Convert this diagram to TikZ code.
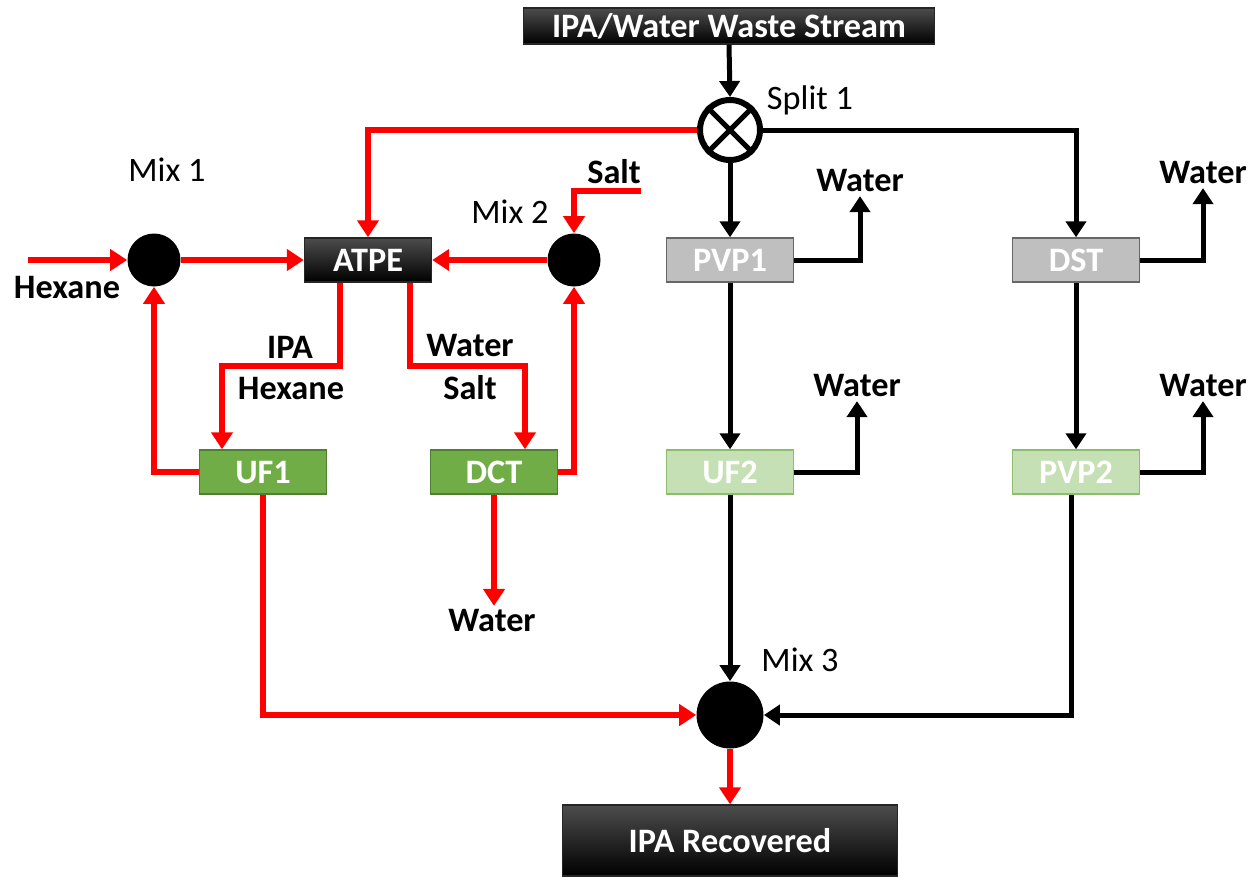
\documentclass[tikz,border=0pt]{standalone}
\usepackage{fontspec}
\setmainfont{Carlito}
\usepackage{xcolor}
\usepackage{tikz}
\usetikzlibrary{arrows.meta}

\definecolor{leafgreen}{HTML}{70AD47}
\definecolor{leafdark}{HTML}{507E32}
\definecolor{leafpale}{HTML}{C5E0B4}
\definecolor{unitgrey}{HTML}{BFBFBF}

\begin{document}
\begin{tikzpicture}[x=0.02cm,y=-0.02cm,
  unitbox/.style={draw,line width=0.8pt,minimum width=2.54cm,minimum height=0.88cm,inner sep=0pt,
    font=\fontsize{19.5}{23}\selectfont\bfseries,text=white},
  blackbox/.style={unitbox,draw=black!85,top color=black!70,middle color=black,bottom color=black},
  greybox/.style={unitbox,draw=black!60,fill=unitgrey},
  greenbox/.style={unitbox,draw=leafdark,fill=leafgreen},
  palebox/.style={unitbox,draw=leafgreen!80,fill=leafpale},
  mixer/.style={circle,fill=black,inner sep=0pt,minimum size=1.06cm},
  lbl/.style={inner sep=2pt,font=\fontsize{19.5}{23}\selectfont\bfseries},
  tag/.style={inner sep=0pt,font=\fontsize{19.5}{23}\selectfont},
  redflow/.style={draw=red,line width=0.11cm,-{Triangle[length=0.34cm,width=0.42cm]}},
  blackflow/.style={draw=black,line width=0.1cm,-{Triangle[length=0.32cm,width=0.4cm]}}]
  \useasboundingbox (0,0) rectangle (1250,876);

  % units
  \node[blackbox,minimum width=8.22cm,minimum height=0.72cm] (waste) at (729,26) {IPA/Water Waste Stream};
  \node[circle,draw,fill=white,line width=0.12cm,minimum size=1.2cm,inner sep=0pt] (split) at (730,130) {};
  \draw[line width=0.1cm] (split.45) -- (split.225) (split.135) -- (split.315);
  \node[blackbox] (atpe) at (368,260) {ATPE};
  \node[mixer] (mix1) at (154,260) {};
  \node[mixer] (mix2) at (574,260) {};
  \node[greybox] (pvp1) at (730,260) {PVP1};
  \node[greybox] (dst) at (1076,260) {DST};
  \node[greenbox] (uf1) at (263,472) {UF1};
  \node[greenbox] (dct) at (494,472) {DCT};
  \node[palebox] (uf2) at (730,472) {UF2};
  \node[palebox] (pvp2) at (1076,472) {PVP2};
  \node[mixer,minimum size=1.34cm] (mix3) at (730,715) {};
  \node[blackbox,minimum width=6.7cm,minimum height=1.42cm] (rec) at (730,840.5) {IPA Recovered};

  % labels
  \node[tag] (split-lbl) at (810,100) {Split 1};
  \node[tag] (mix1-lbl) at (167,170) {Mix 1};
  \node[tag] (mix2-lbl) at (510,212) {Mix 2};
  \node[tag] (mix3-lbl) at (800,660) {Mix 3};
  \node[lbl] (hex-lbl) at (67,288) {Hexane};
  \node[lbl] (salt-lbl) at (614,172) {Salt};
  \node[lbl] (ipa-lbl) at (290,347) {IPA};
  \node[lbl] (hex2-lbl) at (291,389) {Hexane};
  \node[lbl] (wat-lbl) at (470,346) {Water};
  \node[lbl] (salt2-lbl) at (470,388) {Salt};
  \node[lbl] (w1) at (860,181) {Water};
  \node[lbl] (w2) at (1203,173) {Water};
  \node[lbl] (w3) at (857,386) {Water};
  \node[lbl] (w4) at (1203,386) {Water};
  \node[lbl] (w5) at (492,621) {Water};
  \coordinate (hexin) at (28,260);
  \coordinate (saltin) at (641,191);
  \coordinate (k1) at (222,366);
  \coordinate (k2) at (525,366);

  % red streams
  \draw[redflow] (split.west) -| (atpe.north);
  \draw[redflow] (hexin) -- (mix1.west);
  \draw[redflow] (mix1.east) -- (atpe.west);
  \draw[redflow] (mix2.west) -- (atpe.east);
  \draw[redflow] (saltin) -| (mix2.north);
  \draw[redflow] ([xshift=-0.56cm]atpe.south) |- (k1) -- (k1 |- uf1.north);
  \draw[redflow] ([xshift=0.84cm]atpe.south) |- (k2) -- (k2 |- dct.north);
  \draw[redflow] (uf1.west) -| (mix1.south);
  \draw[redflow] (dct.east) -| (mix2.south);
  \draw[redflow] (dct.south) -- (dct.south |- w5.north);
  \draw[redflow] (uf1.south) |- (mix3.west);
  \draw[redflow] (mix3.south) -- (rec.north);

  % black streams
  \draw[blackflow] (waste.south) -- (split.north);
  \draw[blackflow] (split.south) -- (pvp1.north);
  \draw[blackflow] (split.east) -| (dst.north);
  \draw[blackflow] (pvp1.east) -| (w1.south);
  \draw[blackflow] (dst.east) -| (w2.south);
  \draw[blackflow] (pvp1.south) -- (uf2.north);
  \draw[blackflow] (dst.south) -- (pvp2.north);
  \draw[blackflow] (uf2.east) -| (w3.south);
  \draw[blackflow] (pvp2.east) -| (w4.south);
  \draw[blackflow] (uf2.south) -- (mix3.north);
  \draw[blackflow] ([xshift=-0.1cm]pvp2.south) |- (mix3.east);
\end{tikzpicture}
\end{document}
